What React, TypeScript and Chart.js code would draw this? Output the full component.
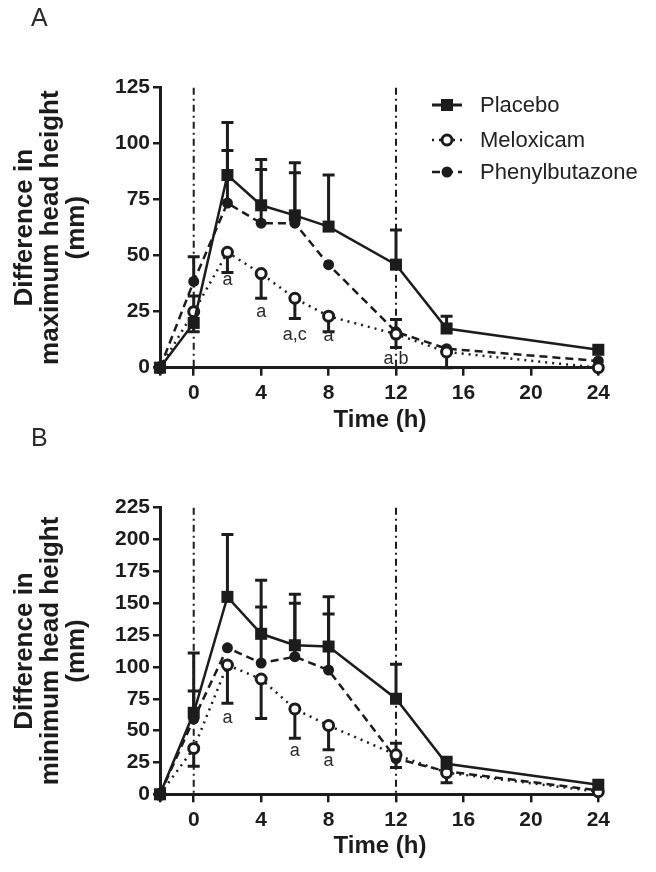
import React, { useEffect, useRef } from 'react';
import { Chart, registerables } from 'chart.js';
Chart.register(...registerables);

const FONT = '"Liberation Sans", Arial, Helvetica, sans-serif';
const INK = '#1c1c1c';

// shared x values
const times = [-2, 0, 2, 4, 6, 8, 12, 15, 24];
const xTicks = [-2, 0, 4, 8, 12, 16, 20, 24];
const refLines = [0, 12];
const seriesNames = ['Placebo', 'Meloxicam', 'Phenylbutazone'];

// Panel A: maximum head height
const aPlacebo = [0, 20, 86, 72.5, 68, 63, 46, 17.5, 8];
const aPlaceboErr = [0, 12, 23.5, 20.5, 23.5, 23, 15.5, 5.5, 0];
const aMeloxicam = [0, 25, 51.5, 42, 31, 23, 15, 7, 0];
const aMeloxicamErr = [0, 9, 9, 11, 9, 7, 6, 7, 0];
const aPhenyl = [0, 38.5, 73.5, 64.5, 64.5, 46, 16, 8.5, 3];
const aPhenylErr = [0, 11, 23.5, 24, 22.5, 0, 5.5, 0, 0];
const aYTicks = [0, 25, 50, 75, 100, 125];
const aNoteX = [2, 4, 6, 8, 12];
const aNoteY = [39, 25, 14.5, 14, 4];
const aNoteText = ['a', 'a', 'a,c', 'a', 'a,b'];
const aYTitle = ['Difference in', 'maximum head height', '(mm)'];

// Panel B: minimum head height
const bPlacebo = [0, 64, 155, 126, 117, 116, 75, 24, 7.5];
const bPlaceboErr = [0, 47, 49, 42, 40, 39, 27, 5, 0];
const bMeloxicam = [0, 36, 101.5, 90.5, 67, 54, 31, 17, 2];
const bMeloxicamErr = [0, 14, 30, 31, 23, 19, 10, 8, 0];
const bPhenyl = [0, 59, 115, 103, 108, 97.5, 28, 18, 3];
const bPhenylErr = [0, 22, 0, 44, 42, 44, 12, 0, 0];
const bYTicks = [0, 25, 50, 75, 100, 125, 150, 175, 200, 225];
const bNoteX = [2, 6, 8];
const bNoteY = [60, 34, 26];
const bNoteText = ['a', 'a', 'a'];
const bYTitle = ['Difference in', 'minimum head height', '(mm)'];

type PanelSpec = {
  letter: string;
  placebo: number[]; placeboErr: number[];
  melox: number[]; meloxErr: number[];
  phenyl: number[]; phenylErr: number[];
  yTicks: number[];
  noteX: number[]; noteY: number[]; noteText: string[];
  yTitle: string[];
  legend: boolean;
  canvasTop: number;
  canvasH: number;
  areaTop: number;
  areaBottom: number;
};

const W = 656;

function pts(vals: number[]) {
  return times.map((t, i) => ({ x: t, y: vals[i] }));
}

function drawMarker(ctx: CanvasRenderingContext2D, kind: number, x: number, y: number) {
  ctx.save();
  ctx.setLineDash([]);
  if (kind === 0) {
    ctx.fillStyle = INK;
    ctx.fillRect(x - 6, y - 6, 12, 12);
  } else if (kind === 1) {
    ctx.beginPath();
    ctx.arc(x, y, 5, 0, Math.PI * 2);
    ctx.fillStyle = '#fff';
    ctx.fill();
    ctx.lineWidth = 3;
    ctx.strokeStyle = INK;
    ctx.stroke();
  } else {
    ctx.beginPath();
    ctx.arc(x, y, 5.5, 0, Math.PI * 2);
    ctx.fillStyle = INK;
    ctx.fill();
  }
  ctx.restore();
}

function makeConfig(p: PanelSpec): any {
  const errSets = [
    { vals: p.placebo, err: p.placeboErr, dir: 1 },
    { vals: p.melox, err: p.meloxErr, dir: -1 },
    { vals: p.phenyl, err: p.phenylErr, dir: 1 },
  ];
  const panelPlugin = {
    id: 'panelExtras',
    beforeDatasetsDraw(chart: any) {
      const ctx = chart.ctx as CanvasRenderingContext2D;
      const xs = chart.scales.x;
      const ys = chart.scales.y;
      const area = chart.chartArea;
      ctx.save();
      // vertical dash-dot reference lines
      ctx.strokeStyle = INK;
      ctx.lineWidth = 2;
      ctx.setLineDash([7, 4, 2, 4]);
      refLines.forEach((v) => {
        const x = xs.getPixelForValue(v);
        ctx.beginPath();
        ctx.moveTo(x, area.top);
        ctx.lineTo(x, area.bottom);
        ctx.stroke();
      });
      // error bars
      ctx.setLineDash([]);
      ctx.lineWidth = 3;
      errSets.forEach((s) => {
        times.forEach((t, i) => {
          if (!s.err[i]) return;
          const x = xs.getPixelForValue(t);
          const y0 = ys.getPixelForValue(s.vals[i]);
          const y1 = ys.getPixelForValue(s.vals[i] + s.dir * s.err[i]);
          ctx.beginPath();
          ctx.moveTo(x, y0);
          ctx.lineTo(x, y1);
          ctx.moveTo(x - 6, y1);
          ctx.lineTo(x + 6, y1);
          ctx.stroke();
        });
      });
      ctx.restore();
    },
    afterDraw(chart: any) {
      const ctx = chart.ctx as CanvasRenderingContext2D;
      const xs = chart.scales.x;
      const ys = chart.scales.y;
      const area = chart.chartArea;
      ctx.save();
      ctx.fillStyle = '#2a2a2a';
      // significance notes
      ctx.font = `18px ${FONT}`;
      ctx.textAlign = 'center';
      ctx.textBaseline = 'middle';
      p.noteX.forEach((v, i) => {
        ctx.fillText(p.noteText[i], xs.getPixelForValue(v), ys.getPixelForValue(p.noteY[i]));
      });
      // panel letter
      ctx.font = `25px ${FONT}`;
      ctx.textAlign = 'left';
      ctx.fillText(p.letter, 31, 19);
      // x title
      ctx.fillStyle = INK;
      ctx.font = `bold 24px ${FONT}`;
      ctx.textAlign = 'center';
      ctx.textBaseline = 'alphabetic';
      ctx.fillText('Time (h)', (area.left + area.right) / 2, area.bottom + 59);
      // y title
      const cy = (area.top + area.bottom) / 2;
      ctx.textBaseline = 'middle';
      ctx.font = `bold 26px ${FONT}`;
      p.yTitle.forEach((line, i) => {
        ctx.save();
        ctx.translate(25 + i * 26, cy);
        ctx.rotate(-Math.PI / 2);
        ctx.fillText(line, 0, 0);
        ctx.restore();
      });
      // legend
      if (p.legend) {
        const ly = [105, 140, 172];
        const dashes = [[], [2, 5], [8, 5]];
        seriesNames.forEach((name, i) => {
          ctx.save();
          ctx.strokeStyle = INK;
          ctx.lineWidth = i === 0 ? 3 : 2.5;
          ctx.setLineDash(dashes[i]);
          ctx.beginPath();
          ctx.moveTo(432, ly[i]);
          ctx.lineTo(462, ly[i]);
          ctx.stroke();
          ctx.restore();
          drawMarker(ctx, i, 447, ly[i]);
          ctx.fillStyle = '#222';
          ctx.font = `22px ${FONT}`;
          ctx.textAlign = 'left';
          ctx.textBaseline = 'middle';
          ctx.fillText(name, 480, ly[i] + 1);
        });
      }
      ctx.restore();
    },
  };

  const tickFont = { family: FONT, size: 21, weight: 'bold' as const };
  const yMax = p.yTicks[p.yTicks.length - 1];
  return {
    type: 'line',
    data: {
      datasets: [
        {
          label: 'Placebo',
          data: pts(p.placebo),
          borderColor: INK,
          borderWidth: 2.5,
          pointStyle: 'rect',
          pointRadius: 8.5,
          pointBackgroundColor: INK,
          pointBorderColor: INK,
          pointBorderWidth: 0,
          fill: false,
          tension: 0,
          clip: false,
        },
        {
          label: 'Meloxicam',
          data: pts(p.melox),
          borderColor: INK,
          borderWidth: 2.5,
          borderDash: [2, 5],
          pointStyle: 'circle',
          pointRadius: 5,
          pointBackgroundColor: '#fff',
          pointBorderColor: INK,
          pointBorderWidth: 3,
          fill: false,
          tension: 0,
          clip: false,
        },
        {
          label: 'Phenylbutazone',
          data: pts(p.phenyl),
          borderColor: INK,
          borderWidth: 2.5,
          borderDash: [8, 5],
          pointStyle: 'circle',
          pointRadius: 5.5,
          pointBackgroundColor: INK,
          pointBorderColor: INK,
          pointBorderWidth: 0,
          fill: false,
          tension: 0,
          clip: false,
        },
      ],
    },
    options: {
      responsive: false,
      animation: false,
      devicePixelRatio: 1,
      layout: { padding: { top: p.areaTop, left: 0, right: 56, bottom: 0 } },
      plugins: { legend: { display: false }, tooltip: { enabled: false }, title: { display: false } },
      scales: {
        x: {
          type: 'linear',
          min: -2,
          max: 24.1,
          afterBuildTicks: (s: any) => {
            s.ticks = xTicks.map((v) => ({ value: v }));
          },
          afterFit: (s: any) => {
            s.height = p.canvasH - p.areaBottom;
          },
          ticks: {
            autoSkip: false,
            maxRotation: 0,
            font: tickFont,
            color: INK,
            padding: 5,
            callback: (v: any) => (v === -2 ? '' : String(v)),
          },
          grid: { drawOnChartArea: false, drawTicks: true, tickLength: 8, color: INK, lineWidth: 2.5 },
          border: { display: true, color: INK, width: 3 },
        },
        y: {
          type: 'linear',
          min: 0,
          max: yMax,
          afterBuildTicks: (s: any) => {
            s.ticks = p.yTicks.map((v) => ({ value: v }));
          },
          afterFit: (s: any) => {
            s.width = 160;
          },
          ticks: { font: tickFont, color: INK, padding: 3 },
          grid: { drawOnChartArea: false, drawTicks: true, tickLength: 7, color: INK, lineWidth: 2.5 },
          border: { display: true, color: INK, width: 3 },
        },
      },
    },
    plugins: [panelPlugin],
  };
}

const panelA: PanelSpec = {
  letter: 'A',
  placebo: aPlacebo, placeboErr: aPlaceboErr,
  melox: aMeloxicam, meloxErr: aMeloxicamErr,
  phenyl: aPhenyl, phenylErr: aPhenylErr,
  yTicks: aYTicks,
  noteX: aNoteX, noteY: aNoteY, noteText: aNoteText,
  yTitle: aYTitle,
  legend: true,
  canvasTop: 0,
  canvasH: 440,
  areaTop: 87.7,
  areaBottom: 367.7,
};

const panelB: PanelSpec = {
  letter: 'B',
  placebo: bPlacebo, placeboErr: bPlaceboErr,
  melox: bMeloxicam, meloxErr: bMeloxicamErr,
  phenyl: bPhenyl, phenylErr: bPhenylErr,
  yTicks: bYTicks,
  noteX: bNoteX, noteY: bNoteY, noteText: bNoteText,
  yTitle: bYTitle,
  legend: false,
  canvasTop: 420,
  canvasH: 452,
  areaTop: 87.7,
  areaBottom: 374.3,
};

function Panel({ spec }: { spec: PanelSpec }) {
  const ref = useRef<HTMLCanvasElement | null>(null);
  useEffect(() => {
    if (!ref.current) return;
    const chart = new Chart(ref.current, makeConfig(spec));
    return () => chart.destroy();
  }, [spec]);
  return (
    <canvas
      ref={ref}
      width={W}
      height={spec.canvasH}
      style={{ position: 'absolute', left: 0, top: spec.canvasTop, width: W, height: spec.canvasH, display: 'block' }}
    />
  );
}

export default function App() {
  return (
    <div style={{ position: 'absolute', left: 0, top: 0, width: W, height: 872, background: '#fff' }}>
      <Panel spec={panelA} />
      <Panel spec={panelB} />
    </div>
  );
}
